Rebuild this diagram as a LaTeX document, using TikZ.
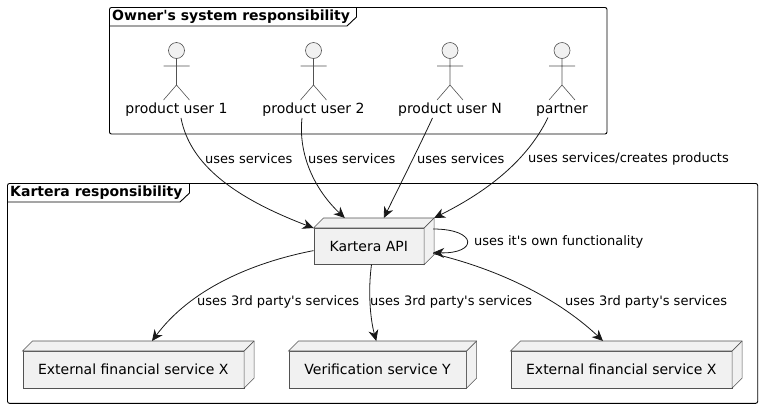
\documentclass[tikz,border=0pt]{standalone}
\usepackage{fontspec}
\setmainfont{DejaVu Sans}
\usetikzlibrary{arrows.meta}
\definecolor{boxfill}{HTML}{F1F1F1}
\definecolor{boxline}{HTML}{181818}
\tikzset{
  dep/.style={draw=boxline!75,line width=0.6pt,fill=boxfill},
  depface/.style={dep,inner sep=0,font=\fontsize{14}{16}\selectfont},
  stick/.style={draw=boxline!75,line width=0.6pt},
  frametab/.style={anchor=west,inner sep=0,font=\bfseries\fontsize{14}{16}\selectfont},
  edgetext/.style={anchor=west,inner sep=0,font=\fontsize{13}{15}\selectfont},
  usertext/.style={inner sep=1pt,font=\fontsize{14}{16}\selectfont},
  link/.style={->,line width=0.8pt,color=boxline},
  >={Stealth[length=11pt,width=10pt,inset=3.5pt]}
}
\newcommand\depnode[6]{% name, left, top, width, height, text
  \node[depface,minimum width=#4pt,minimum height=#5pt,anchor=north west] (#1) at (#2,#3+10) {#6};
  \draw[dep] (#1.north west) -- ++(10,-10) -- ([shift={(10pt,10pt)}]#1.north east) -- ([shift={(10pt,10pt)}]#1.south east) -- (#1.south east) -- (#1.north east) -- cycle;
  \draw[dep] (#1.north east) -- ++(10,-10);
}
\newcommand\actorfig[3]{% name, x, label
  \draw[dep] (#2,50.5) circle (8);
  \draw[stick] (#2,58.5) -- (#2,85) -- ++(-13,15) (#2,85) -- ++(13,15) (#2-13,66) -- (#2+13,66);
  \node[usertext] (#1) at (#2,110) {#3};
}
\begin{document}
\begin{tikzpicture}[x=1pt,y=-1pt]
  \useasboundingbox (0,0) rectangle (762,408);

  % frames
  \draw[line width=0.9pt,rounded corners=2pt] (109.5,7.5) rectangle (607,134);
  \draw[line width=0.9pt] (109.5,26) -- (347,26) -- (356.5,17) -- (356.5,7.5);
  \node[frametab] (ownertab) at (112,16.5) {Owner\textquotesingle s system responsibility};

  \draw[line width=0.9pt,rounded corners=2pt] (7.5,183.5) rectangle (757.7,403.3);
  \draw[line width=0.9pt] (7.5,202) -- (180,202) -- (189.5,193) -- (189.5,183.5);
  \node[frametab] (karteratab) at (10,192.5) {Kartera responsibility};

  % actors
  \actorfig{user1}{176.5}{product user 1}
  \actorfig{user2}{313.5}{product user 2}
  \actorfig{userN}{450}{product user N}
  \actorfig{partner}{562}{partner}

  % nodes
  \depnode{kartera}{313.5}{218}{110}{36}{Kartera API}
  \depnode{extone}{22.5}{341}{221}{36.5}{External financial service X}
  \depnode{verif}{288.5}{341}{177.5}{36.5}{Verification service Y}
  \depnode{exttwo}{510.5}{341}{221}{36.5}{External financial service X}

  % connectors
  \draw[link] ([xshift=4.5pt]user1.south) .. controls (190,165) and (235,198) .. (kartera.north west);
  \draw[link] ([xshift=-11.5pt]user2.south) .. controls (298,155) and (315,190) .. ([shift={(-24pt,10pt)}]kartera.north);
  \draw[link] ([xshift=-17.5pt]userN.south) .. controls (420,145) and (400,185) .. ([shift={(15pt,10pt)}]kartera.north);
  \draw[link] ([xshift=-14pt]partner.south) .. controls (525,165) and (480,195) .. ([shift={(10pt,10pt)}]kartera.north east);
  \draw[link] ([shift={(9pt,-1pt)}]kartera.north east) .. controls (478,229) and (478,254) .. ([shift={(9pt,12pt)}]kartera.south east);
  \draw[link] ([shift={(0pt,14pt)}]kartera.south west) .. controls (250,263) and (190,290) .. ([shift={(18.7pt,10pt)}]extone.north);
  \draw[link] ([xshift=2.7pt]kartera.south) .. controls (368,290) and (370,318) .. ([shift={(-1.3pt,10pt)}]verif.north);
  \draw[link] ([shift={(9pt,11pt)}]kartera.south east) .. controls (510,272) and (565,305) .. ([shift={(-18.3pt,10pt)}]exttwo.north);

  % edge labels
  \node[edgetext] (lab1) at (205,159) {uses services};
  \node[edgetext] (lab2) at (308,159) {uses services};
  \node[edgetext] (lab3) at (417,159) {uses services};
  \node[edgetext] (lab4) at (528,159) {uses services/creates products};
  \node[edgetext] (lab5) at (474,242) {uses it\textquotesingle s own functionality};
  \node[edgetext] (lab6) at (197,302) {uses 3rd party\textquotesingle s services};
  \node[edgetext] (lab7) at (370,302) {uses 3rd party\textquotesingle s services};
  \node[edgetext] (lab8) at (565,302) {uses 3rd party\textquotesingle s services};
\end{tikzpicture}
\end{document}
